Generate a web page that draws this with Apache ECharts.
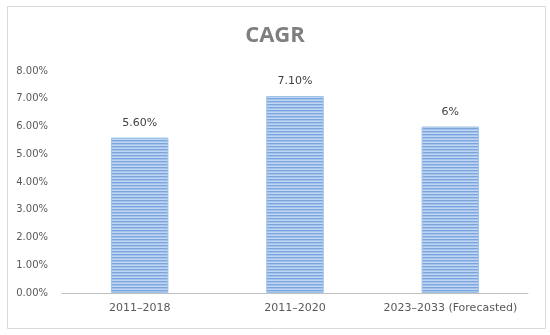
<!DOCTYPE html>
<html><head><meta charset="utf-8">
<script src="https://cdn.jsdelivr.net/npm/echarts@6/dist/echarts.min.js"></script>
<style>html,body{margin:0;padding:0;background:#fff}#c{width:550px;height:335px}</style>
</head><body><div id="c"></div>
<script>
const categories = ['2011–2018', '2011–2020', '2023–2033 (Forecasted)'];
const values = [5.6, 7.1, 6];
const valueLabels = ['5.60%', '7.10%', '6%'];
const yTicks = [0, 1, 2, 3, 4, 5, 6, 7, 8];

const pc = document.createElement('canvas');
pc.width = 4; pc.height = 3;
const g = pc.getContext('2d');
const rows = ['#a3c2ec', '#c2d6f3', '#7aa6dd'];
rows.forEach((c, i) => { g.fillStyle = c; g.fillRect(0, i, 4, 1); });

const chart = echarts.init(document.getElementById('c'), null, {renderer: 'canvas'});
chart.setOption({
  animation: false,
  backgroundColor: '#fff',
  title: {
    text: 'CAGR', left: 'center', top: 20,
    textStyle: {fontFamily: 'Open Sans', fontWeight: 'bold', fontSize: 22, color: '#7f7f7f', letterSpacing: 4}
  },
  graphic: [{
    type: 'rect', left: 5, top: 4,
    shape: {width: 538, height: 322},
    style: {fill: 'none', stroke: '#d9d9d9', lineWidth: 1}
  }],
  grid: {left: 62, right: 22, top: 71, bottom: 42},
  xAxis: {
    type: 'category', data: categories,
    axisLine: {lineStyle: {color: '#bfbfbf', width: 1}},
    axisTick: {show: false},
    axisLabel: {interval: 0, color: '#595959', fontSize: 11, fontFamily: 'DejaVu Sans', margin: 10}
  },
  yAxis: {
    type: 'value', min: yTicks[0], max: yTicks[yTicks.length - 1], interval: 1,
    splitLine: {show: false},
    axisLine: {show: false}, axisTick: {show: false},
    axisLabel: {color: '#595959', fontSize: 10, fontFamily: 'DejaVu Sans', margin: 14,
      formatter: v => v.toFixed(2) + '%'}
  },
  series: [{
    type: 'bar', data: values, barWidth: '37%',
    itemStyle: {color: {image: pc, repeat: 'repeat'}, borderColor: '#9dc3e6', borderWidth: 1},
    label: {show: true, position: 'top', distance: 9, color: '#404040', fontSize: 11, fontFamily: 'DejaVu Sans',
      formatter: p => valueLabels[p.dataIndex]}
  }]
});
</script></body></html>
